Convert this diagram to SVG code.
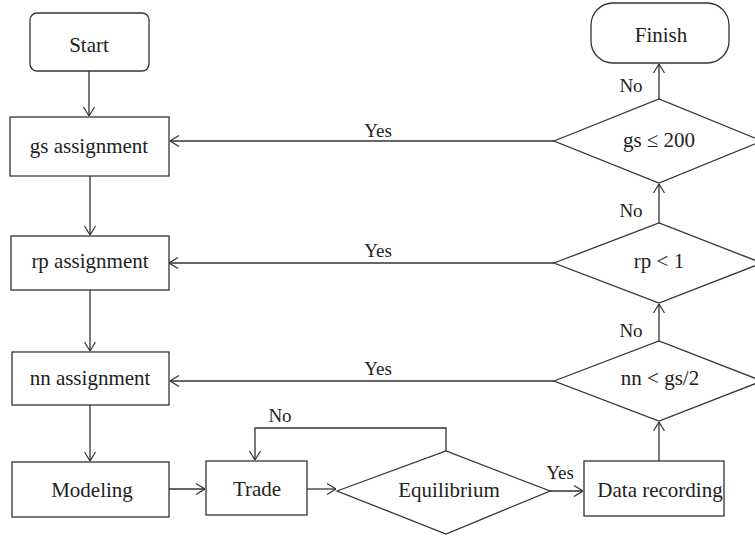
<svg xmlns="http://www.w3.org/2000/svg" width="755" height="537" viewBox="0 0 755 537">
<defs>
<marker id="arr" viewBox="0 0 10 12" refX="10" refY="6" markerWidth="10" markerHeight="12" markerUnits="userSpaceOnUse" orient="auto">
<path d="M1,0.5 L10,6 L1,11.5" fill="none" stroke="#333" stroke-width="1.2"/>
</marker>
<style>
.s{fill:#fff;stroke:#333;stroke-width:1.3}
.t{font-family:'Liberation Serif','DejaVu Serif',serif;font-size:21px;fill:#222;text-anchor:middle}
.l{font-family:'Liberation Serif','DejaVu Serif',serif;font-size:19px;fill:#222;text-anchor:middle}
.c{fill:none;stroke:#333;stroke-width:1.3;marker-end:url(#arr)}
</style>
</defs>
<rect width="755" height="537" fill="#fff"/>
<g id="connectors">
<path class="c" d="M89,71 V116"/>
<path class="c" d="M90,176 V235"/>
<path class="c" d="M90,290 V351"/>
<path class="c" d="M90,405 V461"/>
<path class="c" d="M169,489 H205"/>
<path class="c" d="M307,489 H336"/>
<path class="c" d="M446,451 V428 H255 V460"/>
<path class="c" d="M550,491 H583"/>
<path class="c" d="M659,461 V422"/>
<path class="c" d="M659,341 V304"/>
<path class="c" d="M659,223 V184"/>
<path class="c" d="M659,99 V64"/>
<path class="c" d="M554,141 H170"/>
<path class="c" d="M554,263 H169"/>
<path class="c" d="M554,381 H170"/>
<text class="l" x="378" y="137">Yes</text>
<text class="l" x="378" y="257">Yes</text>
<text class="l" x="378" y="375">Yes</text>
<text class="l" x="631" y="92">No</text>
<text class="l" x="631" y="217">No</text>
<text class="l" x="631" y="337">No</text>
<text class="l" x="280" y="422">No</text>
<text class="l" x="560" y="479">Yes</text>
</g>
<g id="start"><rect class="s" x="30" y="13" width="119" height="58" rx="7"/><text class="t" x="89" y="52">Start</text></g>
<g id="gs_assignment"><rect class="s" x="10" y="117" width="159" height="59"/><text class="t" x="89" y="153">gs assignment</text></g>
<g id="rp_assignment"><rect class="s" x="11" y="236" width="158" height="54"/><text class="t" x="90" y="268">rp assignment</text></g>
<g id="nn_assignment"><rect class="s" x="12" y="352" width="157" height="53"/><text class="t" x="90" y="385">nn assignment</text></g>
<g id="modeling"><rect class="s" x="12" y="462" width="157" height="55"/><text class="t" x="92" y="497">Modeling</text></g>
<g id="trade"><rect class="s" x="206" y="461" width="101" height="54"/><text class="t" x="257" y="496">Trade</text></g>
<g id="equilibrium"><polygon class="s" points="337,491 446,451 550,491 446,534"/><text class="t" x="449" y="497">Equilibrium</text></g>
<g id="data_recording"><rect class="s" x="584" y="461" width="140" height="55"/><text class="t" x="660" y="497">Data recording</text></g>
<g id="nn_cond"><polygon class="s" points="554,381 659,341 762,381 659,421"/><text class="t" x="660" y="385">nn &lt; gs/2</text></g>
<g id="rp_cond"><polygon class="s" points="554,263 659,223 762,263 659,303"/><text class="t" x="659" y="268">rp &lt; 1</text></g>
<g id="gs_cond"><polygon class="s" points="554,141 659,99 762,141 659,183"/><text class="t" x="659" y="147">gs ≤ 200</text></g>
<g id="finish"><rect class="s" x="591" y="3" width="138" height="60" rx="22"/><text class="t" x="661" y="42">Finish</text></g>
</svg>
